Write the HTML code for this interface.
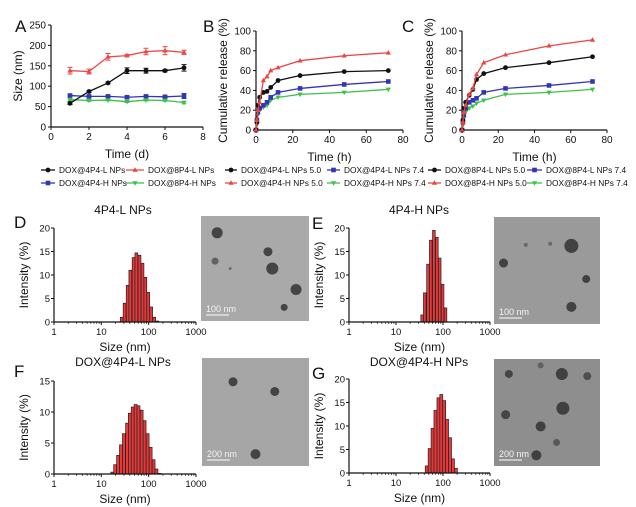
<!DOCTYPE html>
<html><head><meta charset="utf-8"><style>
html,body{margin:0;padding:0;background:#fff;}
svg{display:block;font-family:"Liberation Sans",Arial,sans-serif;}
</style></head><body>
<svg id="fig" width="636" height="507" viewBox="0 0 636 507" xmlns="http://www.w3.org/2000/svg"></svg>
<script>
// ---- Panel A data ----
const aDays = [1,2,3,4,5,6,7];
const aBlack = [58,87,108,138,138,138,145];
const aBlackErr = [3,2,2,7,6,3,8];
const aRed = [138,136,172,175,185,187,183];
const aRedErr = [8,6,8,3,8,10,5];
const aBlue = [77,75,75,73,75,74,76];
const aBlueErr = [3,3,3,3,3,3,6];
const aGreen = [67,65,66,62,66,65,60];
const aGreenErr = [3,2,2,2,2,2,3];
const aYTicks = [0,50,100,150,200,250];
const aXTicks = [0,2,4,6,8];
// ---- Panel B / C data ----
const relTimes = [0,0.5,1,2,4,6,8,12,24,48,72];
const bBlack = [0,8,25,33,38,39,43,50,55,59,60];
const bRed = [0,10,20,28,50,54,60,63,70,75,78];
const bBlue = [0,10,18,22,25,28,33,38,42,46,49];
const bGreen = [0,5,15,20,23,25,30,33,36,38,41];
const cBlack = [0,10,22,28,35,41,51,57,63,68,74];
const cRed = [0,8,18,25,36,42,56,68,76,85,91];
const cBlue = [0,8,15,22,28,30,32,38,42,45,49];
const cGreen = [0,5,12,18,22,24,27,30,36,38,41];
const relYTicks = [0,20,40,60,80,100];
const relXTicks = [0,20,40,60,80];
// ---- Histogram data (size bins in nm, intensity %) ----
const dSizes = [27,31,36,41,48,55,64,74,85,98,113,131,151];
const dVals = [1.0,4.0,7.8,11.0,13.7,14.7,14.2,12.5,9.5,6.3,3.2,1.0,0.2];
const eSizes = [36,41,48,55,64,74,85,98,113];
const eVals = [1.5,6.2,12.3,17.4,19.5,18.0,13.6,8.0,3.0];
const fSizes = [17,19.6,22.6,26,30,35,40,46,53,61,71,82,95,110,127,146,169];
const fVals = [0.3,1.5,3.0,4.7,6.5,8.2,9.8,10.8,11.2,11.0,10.3,8.6,6.5,4.3,2.3,0.8,0.1];
const gSizes = [45,52,60,69,80,92,106,122,141,163,188];
const gVals = [1.5,5.2,9.5,13.3,16.0,16.7,15.4,11.4,7.5,3.0,1.0];
const histYTicks20 = [0,5,10,15,20];
const histYTicks15 = [0,5,10,15];
const histXTicks = [1,10,100,1000];

const NS = "http://www.w3.org/2000/svg";
const svg = document.getElementById('fig');
function mk(tag, attrs, parent){
  const e = document.createElementNS(NS, tag);
  for (const k in attrs) e.setAttribute(k, attrs[k]);
  (parent||svg).appendChild(e);
  return e;
}
function txt(s, x, y, size, anchor, parent, extra){
  const t = mk('text', Object.assign({x:x, y:y, 'font-size':size, 'text-anchor':anchor||'middle', fill:'#111'}, extra||{}), parent);
  t.textContent = s;
  return t;
}
const COL = {black:'#111', red:'#ee4444', blue:'#3434b8', green:'#3cc24a'};

function marker(g, kind, x, y, col){
  let m;
  if (kind==='circle') m = mk('circle',{cx:x,cy:y,r:2.4,fill:col},g);
  else if (kind==='square') m = mk('rect',{x:x-2.3,y:y-2.3,width:4.6,height:4.6,fill:col},g);
  else if (kind==='up') m = mk('polygon',{points:`${x},${y-2.8} ${x-2.6},${y+1.8} ${x+2.6},${y+1.8}`,fill:col},g);
  else m = mk('polygon',{points:`${x},${y+2.8} ${x-2.6},${y-1.8} ${x+2.6},${y-1.8}`,fill:col},g);
  return m;
}

function lineChart(name, x0, x1, y0, y1, xmax, ymax, xTicks, yTicks, xs, series, yLabel, xLabel){
  const g = mk('g',{});
  
  
  const sx = v => x0 + (x1-x0)*v/xmax;
  const sy = v => y0 - (y0-y1)*v/ymax;
  const ax = mk('path',{d:`M${x0},${y1} L${x0},${y0} L${x1},${y0}`,stroke:'#111','stroke-width':1.2,fill:'none'},g);
  
  
  yTicks.forEach(v=>{
    mk('line',{x1:x0-3,x2:x0,y1:sy(v),y2:sy(v),stroke:'#111','stroke-width':1},g);
    const t = txt(String(v), x0-5, sy(v)+3.5, 10, 'end', g);
    
    
  });
  xTicks.forEach(v=>{
    mk('line',{x1:sx(v),x2:sx(v),y1:y0,y2:y0+3,stroke:'#111','stroke-width':1},g);
    const t = txt(String(v), sx(v), y0+13, 10, 'middle', g);
    
    
  });
  const yt = txt(yLabel, 0, 0, 12, 'middle', g, {transform:`translate(${x0-29},${(y0+y1)/2}) rotate(-90)`});
  
  
  const xt = txt(xLabel, (x0+x1)/2, y0+31, 12, 'middle', g);
  
  
  series.forEach(s=>{
    const sg = mk('g',{},g);
    
    
    const d = xs.map((x,i)=>(i?'L':'M')+sx(x)+','+sy(s.vals[i])).join(' ');
    mk('path',{d:d,stroke:s.col,'stroke-width':1.3,fill:'none'},sg);
    xs.forEach((x,i)=>{
      if (s.err){
        const e = s.err[i];
        mk('path',{d:`M${sx(x)},${sy(s.vals[i]-e)} L${sx(x)},${sy(s.vals[i]+e)} M${sx(x)-2.5},${sy(s.vals[i]-e)} h5 M${sx(x)-2.5},${sy(s.vals[i]+e)} h5`,stroke:s.col,'stroke-width':1,fill:'none'},sg);
      }
      const m = marker(sg, s.mk, sx(x), sy(s.vals[i]), s.col);
      
      
    });
  });
}

function panelLetter(s, x, y){
  const t = txt(s, x, y, 17, 'start');
  
  
}

panelLetter('A', 15, 32);
panelLetter('B', 203, 32);
panelLetter('C', 402, 32);

lineChart('chart-a', 51, 203, 127, 25, 8, 250, aXTicks, aYTicks, aDays, [
  {key:'dox-4p4-h', vals:aBlue, err:aBlueErr, col:COL.blue, mk:'square'},
  {key:'dox-8p4-h', vals:aGreen, err:aGreenErr, col:COL.green, mk:'down'},
  {key:'dox-4p4-l', vals:aBlack, err:aBlackErr, col:COL.black, mk:'circle'},
  {key:'dox-8p4-l', vals:aRed, err:aRedErr, col:COL.red, mk:'up'}
], 'Size (nm)', 'Time (d)');

lineChart('chart-b', 256, 403, 130, 31, 80, 100, relXTicks, relYTicks, relTimes, [
  {key:'green', vals:bGreen, col:COL.green, mk:'down'},
  {key:'blue', vals:bBlue, col:COL.blue, mk:'square'},
  {key:'black', vals:bBlack, col:COL.black, mk:'circle'},
  {key:'red', vals:bRed, col:COL.red, mk:'up'}
], 'Cumulative release (%)', 'Time (h)');

lineChart('chart-c', 462, 607, 130, 31, 80, 100, relXTicks, relYTicks, relTimes, [
  {key:'green', vals:cGreen, col:COL.green, mk:'down'},
  {key:'blue', vals:cBlue, col:COL.blue, mk:'square'},
  {key:'black', vals:cBlack, col:COL.black, mk:'circle'},
  {key:'red', vals:cRed, col:COL.red, mk:'up'}
], 'Cumulative release (%)', 'Time (h)');

// legends
const legendItems = [
  [41,59,173,'DOX@4P4-L NPs','black','circle'],
  [126,148,173,'DOX@8P4-L NPs','red','up'],
  [41,59,186,'DOX@4P4-H NPs','blue','square'],
  [126,148,186,'DOX@8P4-H NPs','green','down'],
  [225,241,173,'DOX@4P4-L NPs 5.0','black','circle'],
  [327,344,173,'DOX@4P4-L NPs 7.4','blue','square'],
  [225,241,186,'DOX@4P4-H NPs 5.0','red','up'],
  [327,344,186,'DOX@4P4-H NPs 7.4','green','down'],
  [428,445,173,'DOX@8P4-L NPs 5.0','black','circle'],
  [527,546,173,'DOX@8P4-L NPs 7.4','blue','square'],
  [428,445,186,'DOX@8P4-H NPs 5.0','red','up'],
  [527,546,186,'DOX@8P4-H NPs 7.4','green','down']
];
legendItems.forEach(it=>{
  const g = mk('g',{});
  
  
  const c = COL[it[4]];
  mk('line',{x1:it[0],x2:it[1]-4,y1:it[2]-3,y2:it[2]-3,stroke:c,'stroke-width':1.3},g);
  marker(g, it[5], (it[0]+it[1]-4)/2, it[2]-3, c);
  txt(it[3], it[1], it[2], 8.3, 'start', g);
});

// histograms
function hist(name, x0, x1, y0, y1, ymax, yTicks, sizes, vals, title, titleX, titleY){
  const g = mk('g',{});
  
  
  const lx = v => x0 + (x1-x0)*Math.log10(v)/3;
  const sy = v => y0 - (y0-y1)*v/ymax;
  const bw = (x1-x0)*Math.log10(sizes[1]/sizes[0])/3;
  sizes.forEach((s,i)=>{
    const b = mk('rect',{x:lx(s)-bw/2,y:sy(vals[i]),width:bw,height:y0-sy(vals[i]),fill:'#e8383a',stroke:'#222','stroke-width':0.7},g);
    
    
  });
  mk('path',{d:`M${x0},${y1} L${x0},${y0} L${x1},${y0}`,stroke:'#111','stroke-width':1.2,fill:'none'},g);
  yTicks.forEach(v=>{
    mk('line',{x1:x0-3,x2:x0,y1:sy(v),y2:sy(v),stroke:'#111'},g);
    const t = txt(String(v), x0-4, sy(v)+3.5, 9.5, 'end', g);
    
    
  });
  for (let dec=1; dec<1000; dec*=10){
    for (let k=2;k<10;k++){ mk('line',{x1:lx(dec*k),x2:lx(dec*k),y1:y0,y2:y0+1.8,stroke:'#111','stroke-width':0.8},g); }
  }
  histXTicks.forEach(v=>{
    mk('line',{x1:lx(v),x2:lx(v),y1:y0,y2:y0+3,stroke:'#111'},g);
    const t = txt(String(v), lx(v), y0+13, 9.5, 'middle', g);
    
    
  });
  const yt = txt('Intensity (%)', 0, 0, 12, 'middle', g, {transform:`translate(${x0-26},${(y0+y1)/2}) rotate(-90)`});
  
  
  const xt = txt('Size (nm)', (x0+x1)/2, y0+29, 12, 'middle', g);
  
  
  const tt = txt(title, titleX, titleY, 12, 'middle', g);
  
  
}
panelLetter('D', 14, 228);
panelLetter('E', 312, 229);
panelLetter('F', 14, 377);
panelLetter('G', 312, 379);
hist('histogram-d', 54, 196, 322, 228, 20, histYTicks20, dSizes, dVals, '4P4-L NPs', 123, 214);
hist('histogram-e', 349, 490, 322, 228, 20, histYTicks20, eSizes, eVals, '4P4-H NPs', 419, 214);
hist('histogram-f', 54, 196, 474, 381, 15, histYTicks15, fSizes, fVals, 'DOX@4P4-L NPs', 123, 366);
hist('histogram-g', 349, 490, 473, 379, 20, histYTicks20, gSizes, gVals, 'DOX@4P4-H NPs', 419, 366);

// TEM images
function tem(name, x, y, w, h, bg, blobs, bar){
  const g = mk('g',{});
  
  
  mk('rect',{x:x,y:y,width:w,height:h,fill:bg},g);
  blobs.forEach(b=>{ mk('circle',{cx:x+b[0]*w,cy:y+b[1]*h,r:b[2],fill:'#333','fill-opacity':b[3]||0.85},g); });
  mk('line',{x1:x+5,x2:x+28,y1:y+h-6,y2:y+h-6,stroke:'#fff','stroke-width':1},g);
  const t = txt(bar, x+5, y+h-9, 9, 'start', g, {fill:'#f4f4f4'});
  
  
}
tem('tem-image-d', 201, 216, 108, 105, '#a9a9a9', [[0.15,0.16,5.5],[0.62,0.34,4.5],[0.13,0.43,3.5,0.6],[0.66,0.5,6],[0.27,0.5,1.5,0.5],[0.88,0.7,5.5],[0.77,0.87,3.5]], '100 nm');
tem('tem-image-e', 494, 217, 106, 107, '#9a9a9a', [[0.73,0.27,7],[0.09,0.43,4.5],[0.87,0.58,4],[0.73,0.84,5],[0.53,0.25,2,0.5],[0.3,0.26,2,0.5]], '100 nm');
tem('tem-image-f', 202, 358, 107, 108, '#a6a6a6', [[0.29,0.22,4.5],[0.68,0.31,4.5],[0.5,0.89,5]], '200 nm');
tem('tem-image-g', 494, 359, 106, 107, '#8e8e8e', [[0.14,0.14,4,0.8],[0.64,0.14,6],[0.88,0.16,4,0.7],[0.44,0.06,3,0.5],[0.65,0.46,6.5],[0.11,0.52,4.5,0.8],[0.44,0.63,5],[0.59,0.78,3.5,0.6],[0.4,0.9,5]], '200 nm');
</script>
</body></html>
